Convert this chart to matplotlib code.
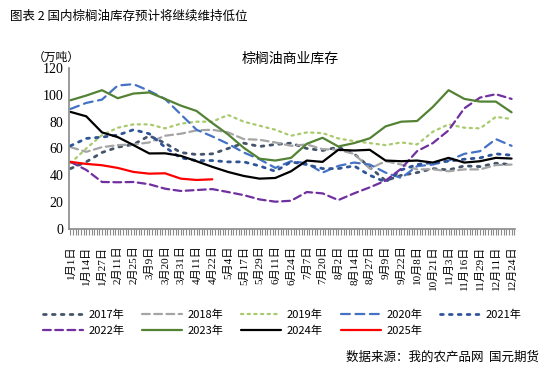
import matplotlib.pyplot as plt
import numpy as np

plt.rcParams['font.family'] = ['Noto Sans CJK SC', 'DejaVu Sans']

dates = ["1月1日", "1月14日", "1月27日", "2月11日", "2月25日", "3月9日", "3月20日",
         "3月31日", "4月11日", "4月22日", "5月4日", "5月17日", "5月29日", "6月11日",
         "6月24日", "7月7日", "7月20日", "8月2日", "8月14日", "8月27日", "9月9日",
         "9月22日", "10月8日", "10月21日", "11月3日", "11月16日", "11月29日",
         "12月11日", "12月24日"]

y2017 = [45, 50, 57, 61, 63, 69.5, 64, 57, 55.5, 56, 60, 64, 61.5, 63, 64, 60, 58.5,
         61, 56, 46, 36, 40, 42, 45, 44, 47, 46.5, 49, 48]
y2018 = [61, 57.5, 61, 62.5, 63, 64.5, 69.5, 71, 73.5, 74, 72, 67, 66.5, 64.5, 62, 63,
         59.5, 59, 56, 45, 50.5, 48, 44.4, 44.5, 43, 44.4, 44.4, 47.6, 48]
y2019 = [49, 60, 70, 75.5, 78, 78, 75, 78.5, 80, 80, 85, 80, 77, 74, 69.5, 72, 71.5,
         67.5, 65.5, 64, 62.5, 64.5, 63, 72.5, 78, 75.5, 75, 83.6, 82]
y2020 = [89.5, 94, 96.5, 107, 108, 103, 97, 85.5, 74, 69, 63.5, 57, 52, 45.5, 50.5,
         49, 42, 47, 49.5, 48, 42, 38, 46.8, 48, 51, 56, 58, 67, 62]
y2021 = [62, 67.5, 68.5, 70, 74, 71, 61, 53, 51, 51, 50, 50, 47, 43, 50, 48, 45, 45,
         47, 40, 35, 44, 48, 49.5, 50.5, 52, 53, 56, 55]
y2022 = [50, 44, 35, 34.8, 35, 33.3, 30, 28.3, 29, 29.7, 27.5, 25.2, 22, 20.3, 21,
         27.5, 26.5, 21.5, 26.5, 31, 36, 45, 58, 64, 73.5, 90, 98, 100.5, 97]
y2023 = [96, 99.5, 103.5, 97.5, 101, 101.8, 97, 92, 88, 79, 70.5, 60.5, 52.4, 51, 53,
         63.5, 68, 61.5, 64, 67.6, 76.5, 80, 80.5, 91, 103.5, 97, 95, 95, 87]
y2024 = [87.3, 84, 72, 68.5, 62.5, 56.3, 56.4, 54.5, 50.5, 46.3, 42.5, 39.5, 37.5, 38,
         43, 51, 50, 59, 58.5, 59, 51, 50.5, 51, 49.5, 53, 49.5, 50.5, 53, 52.5]
y2025 = [50, 48.5, 47.5, 45.5, 42.5, 41.2, 41.5, 37.5, 36.5, 37]

series = [
    ("2017年", y2017, "#44546A", (0, (1, 2.2)), 2.0),
    ("2018年", y2018, "#A5A5A5", (0, (3.5, 2)), 1.6),
    ("2019年", y2019, "#A9C96D", (0, (1, 2)), 1.6),
    ("2020年", y2020, "#4472C4", (0, (4, 2.5)), 1.6),
    ("2021年", y2021, "#2F5597", (0, (1, 2.2)), 2.0),
    ("2022年", y2022, "#7030A0", (0, (3.5, 2)), 1.6),
    ("2023年", y2023, "#548235", "-", 1.6),
    ("2024年", y2024, "#000000", "-", 1.6),
    ("2025年", y2025, "#FF0000", "-", 1.6),
]

fig = plt.figure(figsize=(5.47, 3.68), dpi=100)
ax = fig.add_axes([0.126, 0.378, 0.815, 0.437])

lines = []
for name, vals, color, ls, lw in series:
    x = np.arange(len(vals))
    ln, = ax.plot(x, vals, color=color, linestyle=ls, linewidth=lw, label=name,
                  dash_capstyle='round', solid_capstyle='round')
    lines.append(ln)

ax.set_xlim(-0.1, 28.2)
ax.set_ylim(0, 120)
ax.set_yticks(range(0, 121, 20))
ax.set_xticks(range(len(dates)))
ax.set_xticks(np.arange(0, 28.2, 1 / 6), minor=True)
ax.set_xticklabels(dates, rotation=90,
                   family=['Liberation Serif', 'Noto Sans CJK SC'], fontsize=8)
for t in ax.get_yticklabels():
    t.set_family(['Liberation Serif', 'Noto Sans CJK SC'])
    t.set_fontsize(10)

for s in ['top', 'right']:
    ax.spines[s].set_visible(False)
for s in ['left', 'bottom']:
    ax.spines[s].set_color('#898989')
    ax.spines[s].set_linewidth(1.2)
ax.tick_params(axis='y', length=0, pad=4)
ax.tick_params(axis='x', which='major', length=4, color='#898989', pad=8)
ax.tick_params(axis='x', which='minor', length=4, color='#898989', width=0.8)

fig.text(0.018, 0.955, "图表 2 国内棕榈油库存预计将继续维持低位", fontsize=9, va='center')
fig.text(0.53, 0.84, "棕榈油商业库存", fontsize=10, ha='center', va='center')
fig.text(0.06, 0.845, "（万吨）", fontsize=8.5, va='center')

# legend fills column-wise, so reorder to read row-wise
order = [0, 5, 1, 6, 2, 7, 3, 8, 4]
fig.legend([lines[i] for i in order], [series[i][0] for i in order],
           loc='upper left', bbox_to_anchor=(0.06, 0.185), ncol=5, frameon=False,
           fontsize=8, handlelength=3.6, columnspacing=1.6, labelspacing=0.5,
           handletextpad=0.5, bbox_transform=fig.transFigure)

fig.text(0.985, 0.03, "数据来源：我的农产品网  国元期货", fontsize=9, ha='right', va='center')

fig.savefig("out.png", dpi=100)
